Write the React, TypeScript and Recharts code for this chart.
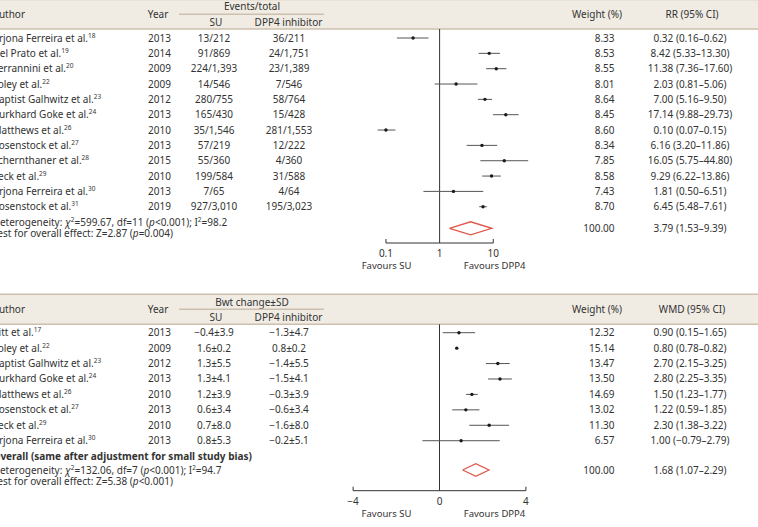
import React from "react";
import { ComposedChart, Scatter, XAxis, YAxis, ErrorBar, ReferenceLine, Customized } from "recharts";

const FONT = "'Noto Sans', 'DejaVu Sans', sans-serif";
const INK = "#333333";
const BAND = "#f0ece4";
const RULE = "#cdbfae";
const RED = "#e0574a";
const LINE = "#555555";

// ---------- Panel 1: hypoglycaemia, events/total, RR ----------
const rrAuthors = ["Arjona Ferreira et al.", "Del Prato et al.", "Ferrannini et al.", "Foley et al.", "Baptist Galhwitz et al.", "Burkhard Goke et al.", "Matthews et al.", "Rosenstock et al.", "Schernthaner et al.", "Seck et al.", "Arjona Ferreira et al.", "Rosenstock et al."];
const rrRefs = ["18", "19", "20", "22", "23", "24", "26", "27", "28", "29", "30", "31"];
const rrYears = ["2013", "2014", "2009", "2009", "2012", "2013", "2010", "2013", "2015", "2010", "2013", "2019"];
const rrSu = ["13/212", "91/869", "224/1,393", "14/546", "280/755", "165/430", "35/1,546", "57/219", "55/360", "199/584", "7/65", "927/3,010"];
const rrDpp = ["36/211", "24/1,751", "23/1,389", "7/546", "58/764", "15/428", "281/1,553", "12/222", "4/360", "31/588", "4/64", "195/3,023"];
const rrWeights = [8.33, 8.53, 8.55, 8.01, 8.64, 8.45, 8.6, 8.34, 7.85, 8.58, 7.43, 8.7];
const rrEst = [0.32, 8.42, 11.38, 2.03, 7.0, 17.14, 0.1, 6.16, 16.05, 9.29, 1.81, 6.45];
const rrLow = [0.16, 5.33, 7.36, 0.81, 5.16, 9.88, 0.07, 3.2, 5.75, 6.22, 0.5, 5.48];
const rrHigh = [0.62, 13.3, 17.6, 5.06, 9.5, 29.73, 0.15, 11.86, 44.8, 13.86, 6.51, 7.61];
const rrOverall = [3.79, 1.53, 9.39];
const rrHet = ["599.67", "11", "<0.001", "98.2"];
const rrTest = ["2.87", "=0.004"];
const rrTicks = [0.1, 1, 10];
const rrTickLabels = ["0.1", "1", "10"];

// ---------- Panel 2: body weight change, WMD ----------
const wAuthors = ["Pitt et al.", "Foley et al.", "Baptist Galhwitz et al.", "Burkhard Goke et al.", "Matthews et al.", "Rosenstock et al.", "Seck et al.", "Arjona Ferreira et al."];
const wRefs = ["17", "22", "23", "24", "26", "27", "29", "30"];
const wYears = ["2013", "2009", "2012", "2013", "2010", "2013", "2010", "2013"];
const wSu = ["\u22120.4\u00b13.9", "1.6\u00b10.2", "1.3\u00b15.5", "1.3\u00b14.1", "1.2\u00b13.9", "0.6\u00b13.4", "0.7\u00b18.0", "0.8\u00b15.3"];
const wDpp = ["\u22121.3\u00b14.7", "0.8\u00b10.2", "\u22121.4\u00b15.5", "\u22121.5\u00b14.1", "\u22120.3\u00b13.9", "\u22120.6\u00b13.4", "\u22121.6\u00b18.0", "\u22120.2\u00b15.1"];
const wWeights = [12.32, 15.14, 13.47, 13.5, 14.69, 13.02, 11.3, 6.57];
const wEst = [0.9, 0.8, 2.7, 2.8, 1.5, 1.22, 2.3, 1.0];
const wLow = [0.15, 0.78, 2.15, 2.25, 1.23, 0.59, 1.38, -0.79];
const wHigh = [1.65, 0.82, 3.25, 3.35, 1.77, 1.85, 3.22, 2.79];
const wOverall = [1.68, 1.07, 2.29];
const wHet = ["132.06", "7", "<0.001", "94.7"];
const wTest = ["5.38", "<0.001"];
const wTicks = [-4, 0, 4];
const wTickLabels = ["\u22124", "0", "4"];

// ---------- layout ----------
const COL = { author: -7.5, year: 171, su: 214, dpp: 289, weight: 614.5, ci: 690 };
const W = 758;

const f2 = (v: number) => v.toFixed(2).replace("-", "\u2212");
const ciText = (e: number, l: number, h: number) => `${f2(e)} (${f2(l)}\u2013${f2(h)})`;

type Seg = { t: string; sup?: boolean; it?: boolean };
function Rich({ x, y, segs, bold }: { x: number; y: number; segs: Seg[]; bold?: boolean }) {
  let raised = false;
  return (
    <text x={x} y={y} dy="0.35em" fontFamily={FONT} fontSize={10} fill={INK} fontWeight={bold ? "bold" : undefined}>
      {segs.map((s, i) => {
        let dy: number | undefined;
        if (s.sup && !raised) { dy = -4; raised = true; }
        else if (!s.sup && raised) { dy = 4; raised = false; }
        return (
          <tspan key={i} dy={dy} fontSize={s.sup ? 6.5 : undefined} fontStyle={s.it ? "italic" : undefined}>{s.t}</tspan>
        );
      })}
    </text>
  );
}

function StudyRow(props: any) {
  const { cx, cy, payload } = props;
  if (cx == null || cy == null) return <g />;
  const t = { fontFamily: FONT, fontSize: 10, fill: INK, dy: "0.35em" } as any;
  return (
    <g>
      <Rich x={COL.author} y={cy} segs={[{ t: payload.author }, { t: payload.ref, sup: true }]} />
      <text x={COL.year} y={cy} textAnchor="end" {...t}>{payload.year}</text>
      <text x={COL.su} y={cy} textAnchor="middle" {...t}>{payload.su}</text>
      <text x={COL.dpp} y={cy} textAnchor="middle" {...t}>{payload.dpp}</text>
      <text x={COL.weight} y={cy} textAnchor="end" {...t}>{payload.weight}</text>
      <text x={COL.ci} y={cy} textAnchor="middle" {...t}>{payload.ci}</text>
      <circle cx={cx} cy={cy} r={1.7} fill="#1a1a1a" />
    </g>
  );
}

function hetSegs(h: string[]): Seg[] {
  return [
    { t: "Heterogeneity: " }, { t: "\u03c7", it: true }, { t: "2", sup: true },
    { t: `=${h[0]}, df=${h[1]} (` }, { t: "p", it: true }, { t: `${h[2]}); I` }, { t: "2", sup: true }, { t: `=${h[3]}` },
  ];
}
function testSegs(z: string[]): Seg[] {
  return [{ t: `Test for overall effect: Z=${z[0]} (` }, { t: "p", it: true }, { t: `${z[1]})` }];
}

function makeOverall(cfg: { het: string[]; test: string[]; hetDy: number; testDy: number; label?: string; labelDy?: number }) {
  return (props: any) => {
    const { cy, payload } = props;
    if (cy == null) return <g />;
    const t = { fontFamily: FONT, fontSize: 10, fill: INK, dy: "0.35em" } as any;
    return (
      <g>
        {cfg.label ? <Rich x={COL.author} y={cy + (cfg.labelDy || 0)} segs={[{ t: cfg.label }]} bold /> : null}
        <Rich x={COL.author} y={cy + cfg.hetDy} segs={hetSegs(cfg.het)} />
        <Rich x={COL.author} y={cy + cfg.testDy} segs={testSegs(cfg.test)} />
        <text x={COL.weight} y={cy} textAnchor="end" {...t}>{payload.weight}</text>
        <text x={COL.ci} y={cy} textAnchor="middle" {...t}>{payload.ci}</text>
      </g>
    );
  };
}

function makeHeader(cfg: { top: number; bottom: number; group: string; effect: string; topRule: boolean }) {
  return () => {
    const mid = (cfg.top + cfg.bottom) / 2;
    const t = { fontFamily: FONT, fontSize: 10, fill: INK, dy: "0.35em" } as any;
    return (
      <g>
        <rect x={0} y={cfg.top} width={W} height={cfg.bottom - cfg.top} fill={BAND} />
        {cfg.topRule ? <line x1={0} x2={W} y1={cfg.top} y2={cfg.top} stroke={RULE} strokeWidth={1.5} /> : null}
        <line x1={0} x2={W} y1={cfg.bottom} y2={cfg.bottom} stroke={RULE} strokeWidth={1.5} />
        <text x={COL.author} y={mid + 0.3} {...t}>Author</text>
        <text x={158} y={mid + 0.3} textAnchor="middle" {...t}>Year</text>
        <text x={252} y={mid - 7.3} textAnchor="middle" {...t}>{cfg.group}</text>
        <line x1={179} x2={324} y1={mid} y2={mid} stroke={RULE} strokeWidth={1.5} />
        <text x={216} y={mid + 7.8} textAnchor="middle" {...t}>SU</text>
        <text x={288.5} y={mid + 7.8} textAnchor="middle" {...t}>DPP4 inhibitor</text>
        <text x={597} y={mid + 0.3} textAnchor="middle" {...t}>Weight (%)</text>
        <text x={692} y={mid + 0.3} textAnchor="middle" {...t}>{cfg.effect}</text>
      </g>
    );
  };
}

function makeTick(ticks: number[], labels: string[]) {
  return (props: any) => {
    const { x, y, payload } = props;
    const v = payload.value;
    let idx = 0;
    ticks.forEach((tk, i) => { if (Math.abs(tk - v) < Math.abs(ticks[idx] - v)) idx = i; });
    const center = idx === 1;
    const t = { fontFamily: FONT, fontSize: 10, fill: INK, dy: "0.35em", textAnchor: "middle" } as any;
    return (
      <g>
        {!center ? <line x1={x} x2={x} y1={y} y2={y - 4} stroke={INK} strokeWidth={1} /> : null}
        <text x={x} y={y + 10.8} {...t}>{labels[idx]}</text>
        {center ? <text x={x - 53} y={y + 22.5} {...t} fontSize={9.5}>Favours SU</text> : null}
        {center ? <text x={x + 55} y={y + 22.5} {...t} fontSize={9.5}>Favours DPP4</text> : null}
      </g>
    );
  };
}

type PanelCfg = {
  height: number; rowY0: number; rowStep: number; axisY: number; zeroX: number; unitX: number;
  headerTop: number; headerBottom: number; diamondPx: number; diamondHalfPx: number;
};

function Panel({ cfg, rows, overall, overallText, header, tickVals, tickLabels }: any) {
  const c: PanelCfg = cfg;
  const toRow = (px: number) => (px - c.rowY0) / c.rowStep;
  const yDomain = [toRow(0), toRow(c.axisY)];
  const xDomain = [-c.zeroX / c.unitX, (W - c.zeroX) / c.unitX];
  const yo = toRow(c.diamondPx);
  const h = c.diamondHalfPx / c.rowStep;
  const [e, l, hi] = overall as number[];
  const diamond = [
    { x: l, y: yo }, { x: e, y: yo - h }, { x: hi, y: yo }, { x: e, y: yo + h }, { x: l, y: yo },
  ];
  const overallPoint = [{ x: e, y: yo, weight: "100.00", ci: overallText }];
  const axisLeft = tickVals[0];
  const axisRight = tickVals[tickVals.length - 1];
  return (
    <ComposedChart width={W} height={c.height} margin={{ top: 0, right: 0, bottom: 0, left: 0 }}>
      <Customized component={header} />
      <XAxis
        type="number" dataKey="x" domain={xDomain} allowDataOverflow ticks={tickVals} interval={0}
        axisLine={false} tickLine={false} tickSize={0} tickMargin={0} height={c.height - c.axisY}
        tick={makeTick(tickVals, tickLabels)}
      />
      <YAxis type="number" dataKey="y" domain={yDomain} allowDataOverflow reversed hide />
      <ReferenceLine segment={[{ x: 0, y: toRow(c.headerBottom) }, { x: 0, y: yDomain[1] }]} stroke={INK} strokeWidth={1} />
      <ReferenceLine segment={[{ x: axisLeft, y: yDomain[1] }, { x: axisRight, y: yDomain[1] }]} stroke={INK} strokeWidth={1} />
      <Scatter data={rows} isAnimationActive={false} shape={StudyRow}>
        <ErrorBar dataKey="err" direction="x" width={0} stroke={LINE} strokeWidth={1} isAnimationActive={false} />
      </Scatter>
      <Scatter data={diamond} isAnimationActive={false} fill={RED} line={{ stroke: RED, strokeWidth: 1.3 }} shape={() => <g />} />
      <Scatter data={overallPoint} isAnimationActive={false} shape={overallText ? (Panel as any).overallShape : undefined} />
    </ComposedChart>
  );
}

const TOP: PanelCfg = { height: 280, rowY0: 38, rowStep: 15.34, axisY: 243, zeroX: 439.6, unitX: 53.65, headerTop: -0.5, headerBottom: 29, diamondPx: 228.3, diamondHalfPx: 6.5 };
const BOT: PanelCfg = { height: 247, rowY0: 52.7, rowStep: 15.43, axisY: 210.7, zeroX: 439.5, unitX: 21.6, headerTop: 14.3, headerBottom: 44.3, diamondPx: 190, diamondHalfPx: 6.3 };

const lg = Math.log10;
const rrRows = rrAuthors.map((a, i) => {
  const x = lg(rrEst[i]);
  return {
    x, y: i, err: [x - lg(rrLow[i]), lg(rrHigh[i]) - x],
    author: a, ref: rrRefs[i], year: rrYears[i], su: rrSu[i], dpp: rrDpp[i],
    weight: rrWeights[i].toFixed(2), ci: ciText(rrEst[i], rrLow[i], rrHigh[i]),
  };
});
const wRows = wAuthors.map((a, i) => ({
  x: wEst[i], y: i, err: [wEst[i] - wLow[i], wHigh[i] - wEst[i]],
  author: a, ref: wRefs[i], year: wYears[i], su: wSu[i], dpp: wDpp[i],
  weight: wWeights[i].toFixed(2), ci: ciText(wEst[i], wLow[i], wHigh[i]),
}));

function ForestPanel({ cfg, rows, overallLog, overallRaw, overallShape, header, tickVals, tickLabels }: any) {
  const c: PanelCfg = cfg;
  const toRow = (px: number) => (px - c.rowY0) / c.rowStep;
  const yDomain = [toRow(0), toRow(c.axisY)];
  const xDomain = [-c.zeroX / c.unitX, (W - c.zeroX) / c.unitX];
  const yo = toRow(c.diamondPx);
  const h = c.diamondHalfPx / c.rowStep;
  const [e, l, hi] = overallLog as number[];
  const diamond = [
    { x: l, y: yo }, { x: e, y: yo - h }, { x: hi, y: yo }, { x: e, y: yo + h }, { x: l, y: yo },
  ];
  const overallPoint = [{ x: e, y: yo, weight: "100.00", ci: ciText(overallRaw[0], overallRaw[1], overallRaw[2]) }];
  const axisLeft = tickVals[0];
  const axisRight = tickVals[tickVals.length - 1];
  return (
    <ComposedChart width={W} height={c.height} margin={{ top: 0, right: 0, bottom: 0, left: 0 }}>
      <Customized component={header} />
      <XAxis
        type="number" dataKey="x" domain={xDomain} allowDataOverflow ticks={tickVals} interval={0}
        axisLine={false} tickLine={false} tickSize={0} tickMargin={0} height={c.height - c.axisY}
        tick={makeTick(tickVals, tickLabels)}
      />
      <YAxis type="number" dataKey="y" domain={yDomain} allowDataOverflow reversed hide />
      <ReferenceLine segment={[{ x: 0, y: toRow(c.headerBottom) }, { x: 0, y: yDomain[1] }]} stroke={INK} strokeWidth={1} />
      <ReferenceLine segment={[{ x: axisLeft, y: yDomain[1] }, { x: axisRight, y: yDomain[1] }]} stroke={INK} strokeWidth={1} />
      <Scatter data={rows} isAnimationActive={false} shape={StudyRow}>
        <ErrorBar dataKey="err" direction="x" width={0} stroke={LINE} strokeWidth={1} isAnimationActive={false} />
      </Scatter>
      <Scatter data={diamond} isAnimationActive={false} fill={RED} line={{ stroke: RED, strokeWidth: 1.3 }} shape={() => <g />} />
      <Scatter data={overallPoint} isAnimationActive={false} shape={overallShape} />
    </ComposedChart>
  );
}

const topOverallShape = makeOverall({ het: rrHet, test: rrTest, hetDy: -5.7, testDy: 5.3 });
const botOverallShape = makeOverall({ het: wHet, test: wTest, hetDy: 0.7, testDy: 11.7, label: "Overall (same after adjustment for small study bias)", labelDy: -13.6 });
const topHeader = makeHeader({ top: TOP.headerTop, bottom: TOP.headerBottom, group: "Events/total", effect: "RR (95% CI)", topRule: true });
const botHeader = makeHeader({ top: BOT.headerTop, bottom: BOT.headerBottom, group: "Bwt change\u00b1SD", effect: "WMD (95% CI)", topRule: true });

export default function App() {
  return (
    <div style={{ position: "absolute", left: 0, top: 0, width: W, height: 527, background: "#fff" }}>
      <div style={{ position: "absolute", left: 0, top: 0 }}>
        <ForestPanel
          cfg={TOP} rows={rrRows}
          overallLog={rrOverall.map(lg)} overallRaw={rrOverall} overallShape={topOverallShape}
          header={topHeader} tickVals={rrTicks.map(lg)} tickLabels={rrTickLabels}
        />
      </div>
      <div style={{ position: "absolute", left: 0, top: 280 }}>
        <ForestPanel
          cfg={BOT} rows={wRows}
          overallLog={wOverall} overallRaw={wOverall} overallShape={botOverallShape}
          header={botHeader} tickVals={wTicks} tickLabels={wTickLabels}
        />
      </div>
    </div>
  );
}
